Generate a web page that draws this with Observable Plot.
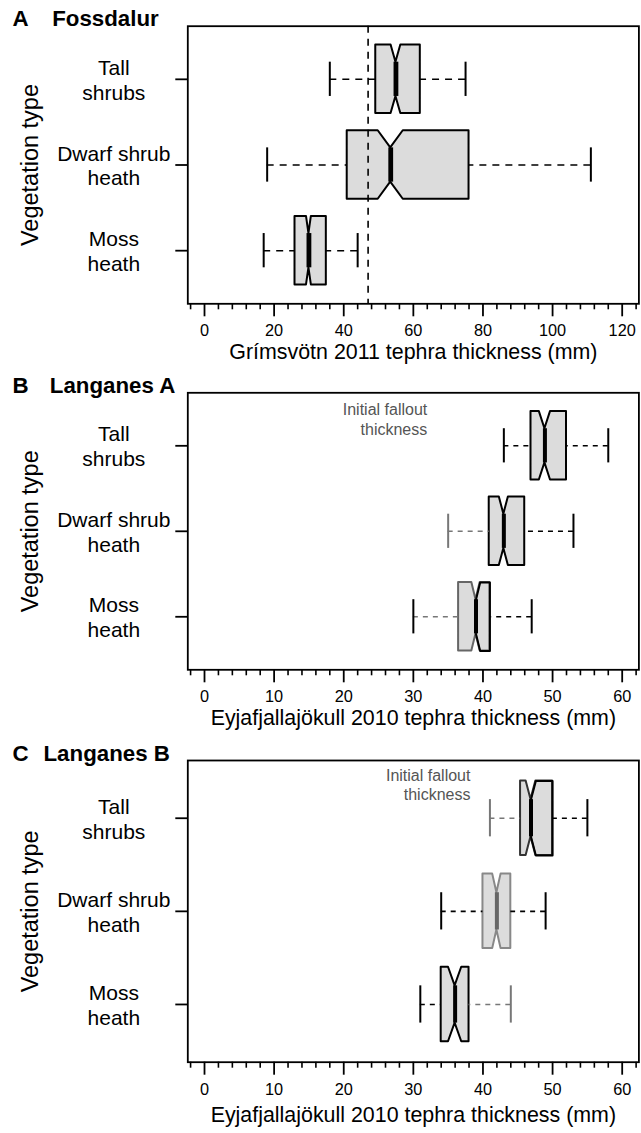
<!DOCTYPE html>
<html><head><meta charset="utf-8">
<script src="https://cdn.jsdelivr.net/npm/d3@7"></script>
<script src="https://cdn.jsdelivr.net/npm/@observablehq/plot@0.6"></script>
<style>
html,body{margin:0;padding:0;background:#fff;}
#wrap{position:relative;width:641px;height:1133px;overflow:hidden;}
#wrap svg{position:absolute;left:0;}
</style></head><body><div id="wrap"></div>
<script>
// ---- Data ----
const categories = ["Tall\nshrubs", "Dwarf shrub\nheath", "Moss\nheath"];
const yAxisTitle = "Vegetation type";

// Panel A: Fossdalur (Grímsvötn 2011)
const aLetter = "A", aName = "Fossdalur";
const aXTitle = "Grímsvötn 2011 tephra thickness (mm)";
const aTicks = [0, 20, 40, 60, 80, 100, 120];
const aWhiskerLo = [36, 18, 17];
const aQ1 = [49.2, 41, 26];
const aMedian = [55, 53.5, 30];
const aQ3 = [62, 76, 35];
const aWhiskerHi = [75, 111, 44];
const aNotch = [1.4, 3.6, 0.7];
const aFallout = [47];

// Panel B: Langanes A (Eyjafjallajökull 2010)
const bLetter = "B", bName = "Langanes A";
const bXTitle = "Eyjafjallajökull 2010 tephra thickness (mm)";
const bTicks = [0, 10, 20, 30, 40, 50, 60];
const bWhiskerLo = [43, 35, 30];
const bQ1 = [46.9, 40.9, 36.5];
const bMedian = [48.9, 43, 39];
const bQ3 = [52, 46, 41];
const bWhiskerHi = [58, 53, 47];
const bNotch = [0.8, 0.65, 0.6];
const bNote = [{x: 32, label: "Initial fallout\nthickness"}];

// Panel C: Langanes B (Eyjafjallajökull 2010)
const cLetter = "C", cName = "Langanes B";
const cXTitle = "Eyjafjallajökull 2010 tephra thickness (mm)";
const cTicks = [0, 10, 20, 30, 40, 50, 60];
const cWhiskerLo = [41, 34, 31];
const cQ1 = [45.4, 40, 34];
const cMedian = [46.9, 42, 36];
const cQ3 = [50, 44, 38];
const cWhiskerHi = [55, 49, 44];
const cNotch = [0.7, 0.6, 0.95];
const cNote = [{x: 38.2, label: "Initial fallout\nthickness"}];

// ---- Styles ----
const FONT = "'Liberation Sans', Arial, Helvetica, sans-serif";
const K = "#000";
const styles = {
  A: {box: [K,K,K], split: [false,false,false], med: [K,K,K], lo: [K,K,K], loCap: [K,K,K], hi: [K,K,K], hiCap: [K,K,K]},
  B: {box: [K,K,"#666"], split: [false,false,true], med: [K,K,K], lo: [K,"#777","#777"], loCap: [K,"#777",K], hi: [K,K,K], hiCap: [K,K,K]},
  C: {box: ["#333","#888",K], split: [true,false,false], med: [K,"#666",K], lo: ["#777",K,K], loCap: ["#777",K,K], hi: [K,K,"#777"], hiCap: [K,K,"#777"]}
};

function panel(cfg) {
  const {letter, name, nameDx, xTitle, ticks, minorStep, xmax, lo, q1, med, q3, hi, notch,
         fallout, note, st, height, marginTop, marginBottom, dash, medW, xTitleDy} = cfg;
  const pad = xmax * 0.04;
  const rows = categories.map((c, i) => ({pos: i + 1, lo: lo[i], q1: q1[i], med: med[i], q3: q3[i], hi: hi[i], n: notch[i]}));
  const marks = [];
  rows.forEach((r, i) => {
    const pts = [
      {x: r.q1, h: 0.4}, {x: r.med - r.n, h: 0.4}, {x: r.med, h: 0.2},
      {x: r.med + r.n, h: 0.4}, {x: r.q3, h: 0.4}
    ].map(p => ({x: p.x, y1: r.pos - p.h, y2: r.pos + p.h}));
    marks.push(Plot.areaY(pts, {x: "x", y1: "y1", y2: "y2", fill: "#dcdcdc", stroke: st.box[i], strokeWidth: 2}));
    if (st.split[i]) {
      const path = [
        {x: r.med, y: r.pos - 0.2}, {x: r.med + r.n, y: r.pos - 0.4}, {x: r.q3, y: r.pos - 0.4},
        {x: r.q3, y: r.pos + 0.4}, {x: r.med + r.n, y: r.pos + 0.4}, {x: r.med, y: r.pos + 0.2}
      ];
      marks.push(Plot.line(path, {x: "x", y: "y", stroke: K, strokeWidth: 2}));
    }
    marks.push(Plot.ruleY([r], {y: "pos", x1: "lo", x2: "q1", stroke: st.lo[i], strokeWidth: 1.6, strokeDasharray: dash}));
    marks.push(Plot.ruleY([r], {y: "pos", x1: "hi", x2: "q3", stroke: st.hi[i], strokeWidth: 1.6, strokeDasharray: dash}));
    marks.push(Plot.ruleX([r], {x: "lo", y1: d => d.pos - 0.2, y2: d => d.pos + 0.2, stroke: st.loCap[i], strokeWidth: 2}));
    marks.push(Plot.ruleX([r], {x: "hi", y1: d => d.pos - 0.2, y2: d => d.pos + 0.2, stroke: st.hiCap[i], strokeWidth: 2}));
    marks.push(Plot.ruleX([r], {x: "med", y1: d => d.pos - 0.2, y2: d => d.pos + 0.2, stroke: st.med[i], strokeWidth: medW}));
  });
  if (fallout) marks.push(Plot.ruleX(fallout, {stroke: K, strokeWidth: 1.6, strokeDasharray: dash}));
  if (note) marks.push(Plot.text(note, {x: "x", text: "label", frameAnchor: "top", textAnchor: "end", lineAnchor: "top",
                                          dy: cfg.noteDy, fontSize: 16, fill: "#555", lineHeight: 1.2}));
  const minor = d3.range(-minorStep, xmax + minorStep + 0.001, minorStep).filter(v => !ticks.includes(v));
  marks.push(
    Plot.axisX(minor, {tickSize: 6, tickFormat: () => "", label: null, strokeWidth: 1.6}),
    Plot.axisX(ticks, {tickSize: 13, tickPadding: 8, fontSize: 16.3, label: null, strokeWidth: 1.8}),
    Plot.axisY([1, 2, 3], {tickFormat: d => categories[d - 1], tickSize: 12, tickPadding: 62, textAnchor: "middle",
                            fontSize: 21, lineHeight: 1.19, label: null, strokeWidth: 1.8}),
    Plot.text([xTitle], {frameAnchor: "bottom", dy: xTitleDy, lineAnchor: "bottom", fontSize: 21.4}),
    Plot.text([yAxisTitle], {frameAnchor: "left", rotate: -90, dx: -150.3, lineAnchor: "bottom", textAnchor: "middle", fontSize: 23.5}),
    Plot.text([letter], {frameAnchor: "top-left", dx: 12 - 187.3, dy: 0, lineAnchor: "bottom", textAnchor: "start", fontSize: 22.3, fontWeight: "bold"}),
    Plot.text([name], {frameAnchor: "top-left", dx: nameDx - 187.3, dy: 0, lineAnchor: "bottom", textAnchor: "start", fontSize: 22.3, fontWeight: "bold"}),
    Plot.frame({stroke: K, strokeWidth: 1.8})
  );
  return Plot.plot({
    width: 641, height, marginTop, marginBottom, marginLeft: 187.3, marginRight: 2.6,
    x: {domain: [-pad, xmax + pad]},
    y: {domain: [0.38, 3.62], reverse: true},
    style: {fontFamily: FONT, color: "#000", background: "transparent", overflow: "visible"},
    marks
  });
}

const wrap = document.getElementById("wrap");
const pA = panel({letter: aLetter, name: aName, nameDx: 51.7, xTitle: aXTitle, ticks: aTicks, minorStep: 4, xmax: 120,
  lo: aWhiskerLo, q1: aQ1, med: aMedian, q3: aQ3, hi: aWhiskerHi, notch: aNotch, fallout: aFallout, note: null,
  st: styles.A, height: 366, marginTop: 25.7, marginBottom: 62.7, dash: "7,6", medW: 4.8, xTitleDy: 55});
const pB = panel({letter: bLetter, name: bName, nameDx: 49.3, xTitle: bXTitle, ticks: bTicks, minorStep: 2, xmax: 60,
  lo: bWhiskerLo, q1: bQ1, med: bMedian, q3: bQ3, hi: bWhiskerHi, notch: bNotch, fallout: null, note: bNote, noteDy: 9,
  st: styles.B, height: 366, marginTop: 26.3, marginBottom: 62.7, dash: "5,5", medW: 4, xTitleDy: 55});
const pC = panel({letter: cLetter, name: cName, nameDx: 43, xTitle: cXTitle, ticks: cTicks, minorStep: 2, xmax: 60,
  lo: cWhiskerLo, q1: cQ1, med: cMedian, q3: cQ3, hi: cWhiskerHi, notch: cNotch, fallout: null, note: cNote, noteDy: 7,
  st: styles.C, height: 401, marginTop: 28, marginBottom: 71.3, dash: "5,5", medW: 4, xTitleDy: 60});
pA.style.top = "0px"; pB.style.top = "366px"; pC.style.top = "732px";
wrap.append(pA, pB, pC);
</script>
</body></html>
